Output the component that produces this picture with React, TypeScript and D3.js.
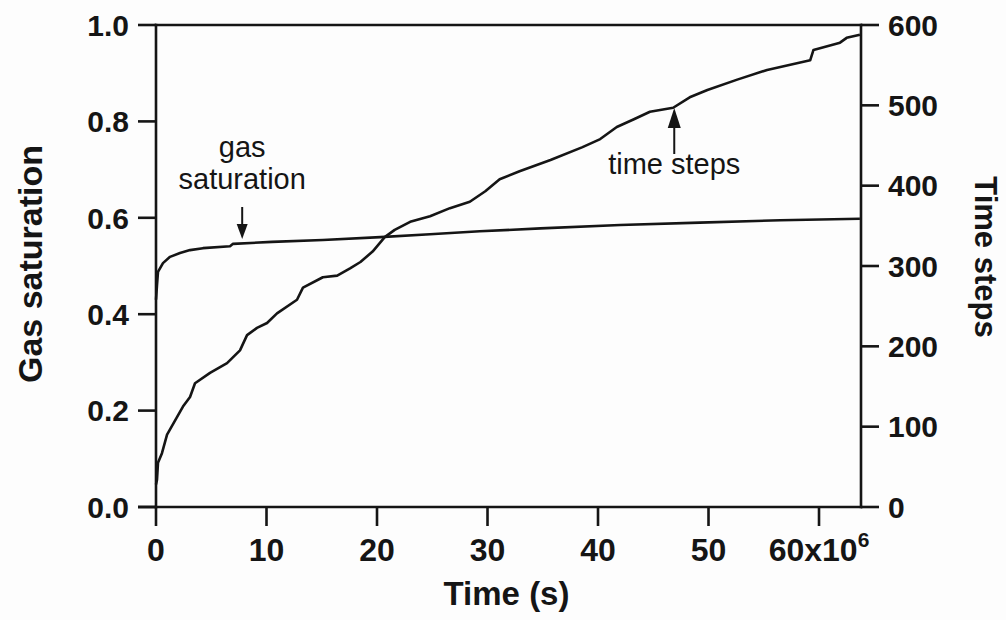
import React from 'react';
import * as d3 from 'd3';

// Time-step count series: time (10^6 s) and cumulative number of steps
const stepTimes = [0, 0.09, 0.18, 0.54, 1.0, 1.9, 2.44, 3.08, 3.53, 4.89, 6.43, 7.6, 8.24, 9.14, 10.05, 10.95, 12.76, 13.3, 15.1, 16.4, 17.56, 18.5, 19.6, 20.7, 21.6, 23.0, 24.8, 26.6, 28.4, 29.8, 31.1, 32.9, 35.7, 38.6, 40.2, 41.7, 43.3, 44.7, 46.8, 48.3, 49.9, 52.6, 55.3, 59.2, 59.5, 61.9, 62.5, 63.7];
const stepCounts = [28, 34, 55, 67, 90, 112, 125, 137, 154, 167, 179, 195, 214, 223, 229, 241, 258, 273, 286, 288, 297, 305, 318, 336, 345, 355, 362, 372, 380, 393, 408, 418, 432, 448, 458, 473, 483, 492, 497, 510, 519, 532, 544, 556, 569, 578, 584, 588];

// Gas saturation series: time (10^6 s) and saturation
const satTimes = [0, 0.09, 0.18, 0.63, 1.27, 2.17, 3.08, 4.25, 6.7, 6.97, 10.5, 15.1, 20.3, 24.8, 29.3, 34.8, 42.0, 49.2, 56.5, 63.7];
const gasSaturation = [0.43, 0.46, 0.488, 0.506, 0.519, 0.527, 0.533, 0.537, 0.541, 0.546, 0.55, 0.554, 0.56, 0.566, 0.572, 0.578, 0.585, 0.59, 0.595, 0.598];

const xTicks = [0, 10, 20, 30, 40, 50, 60];
const satTicks = [0, 0.2, 0.4, 0.6, 0.8, 1.0];
const stepTicks = [0, 100, 200, 300, 400, 500, 600];

const W = 1006;
const H = 620;
const plot = { left: 156, right: 861, top: 25, bottom: 507 };
const font = '"Liberation Sans", Arial, Helvetica, sans-serif';
const ink = '#151515';

export default function App() {
  const x = d3.scaleLinear().domain([0, 63.8]).range([plot.left, plot.right]);
  const ySat = d3.scaleLinear().domain([0, 1]).range([plot.bottom, plot.top]);
  const ySteps = d3.scaleLinear().domain([0, 600]).range([plot.bottom, plot.top]);

  const satPath = d3
    .line<number>()
    .x((_, i) => x(satTimes[i]))
    .y((d) => ySat(d))
    .curve(d3.curveLinear)(gasSaturation) as string;

  const stepPath = d3
    .line<number>()
    .x((_, i) => x(stepTimes[i]))
    .y((d) => ySteps(d))
    .curve(d3.curveLinear)(stepCounts) as string;

  const axisW = 2.6;
  const tickLen = 18;

  // annotation anchors
  const gasArrowX = x(7.8);
  const stepArrowX = x(46.9);

  return (
    <svg
      width={W}
      height={H}
      viewBox={`0 0 ${W} ${H}`}
      style={{ position: 'absolute', left: 0, top: 0, background: '#fdfdfd' }}
      fontFamily={font}
    >
      {/* frame */}
      <g stroke={ink} strokeWidth={axisW} fill="none" strokeLinecap="square">
        <line x1={plot.left} x2={plot.right} y1={plot.top} y2={plot.top} />
        <line x1={plot.left} x2={plot.right} y1={plot.bottom} y2={plot.bottom} />
        <line x1={plot.left} x2={plot.left} y1={plot.top} y2={plot.bottom} />
        <line x1={plot.right} x2={plot.right} y1={plot.top} y2={plot.bottom} />
      </g>

      {/* left axis: gas saturation */}
      <g>
        {satTicks.map((t) => (
          <g key={`s${t}`}>
            <line x1={plot.left - tickLen} x2={plot.left} y1={ySat(t)} y2={ySat(t)} stroke={ink} strokeWidth={axisW} />
            <text x={plot.left - tickLen - 9} y={ySat(t)} dy="0.36em" textAnchor="end" fontSize={30} fontWeight="bold" fill={ink}>
              {t.toFixed(1)}
            </text>
          </g>
        ))}
      </g>

      {/* right axis: time steps */}
      <g>
        {stepTicks.map((t) => (
          <g key={`n${t}`}>
            <line x1={plot.right} x2={plot.right + tickLen} y1={ySteps(t)} y2={ySteps(t)} stroke={ink} strokeWidth={axisW} />
            <text x={plot.right + tickLen + 9} y={ySteps(t)} dy="0.36em" textAnchor="start" fontSize={30} fontWeight="bold" fill={ink}>
              {t}
            </text>
          </g>
        ))}
      </g>

      {/* bottom axis: time */}
      <g>
        <line x1={plot.left - 18} x2={plot.left} y1={plot.bottom} y2={plot.bottom} stroke={ink} strokeWidth={axisW} />
        {xTicks.map((t) => (
          <g key={`x${t}`}>
            <line x1={x(t)} x2={x(t)} y1={plot.bottom} y2={plot.bottom + 19} stroke={ink} strokeWidth={axisW} />
            <text x={x(t)} y={561} textAnchor="middle" fontSize={32} fontWeight="bold" fill={ink}>
              {t === 60 ? (
                <>
                  60x10<tspan fontSize={21} dy={-14}>6</tspan>
                </>
              ) : (
                t
              )}
            </text>
          </g>
        ))}
      </g>

      {/* axis titles */}
      <text x={(plot.left + plot.right) / 2 - 2} y={605} textAnchor="middle" fontSize={33} fontWeight="bold" fill={ink}>
        Time (s)
      </text>
      <text transform={`translate(42,264) rotate(-90)`} textAnchor="middle" fontSize={34} fontWeight="bold" fill={ink}>
        Gas saturation
      </text>
      <text transform={`translate(975,257) rotate(90)`} textAnchor="middle" fontSize={31} fontWeight="bold" fill={ink}>
        Time steps
      </text>

      {/* data */}
      <path d={satPath} fill="none" stroke={ink} strokeWidth={2.6} strokeLinejoin="round" />
      <path d={stepPath} fill="none" stroke={ink} strokeWidth={2.6} strokeLinejoin="round" />

      {/* annotations */}
      <text x={gasArrowX} y={157} textAnchor="middle" fontSize={29} fill={ink}>gas</text>
      <text x={gasArrowX} y={189} textAnchor="middle" fontSize={29} fill={ink}>saturation</text>
      <line x1={gasArrowX} x2={gasArrowX} y1={207} y2={226} stroke={ink} strokeWidth={2} />
      <path d={`M${gasArrowX - 5.5},${224} L${gasArrowX + 5.5},${224} L${gasArrowX},${239} Z`} fill={ink} />

      <text x={stepArrowX} y={174} textAnchor="middle" fontSize={29} fill={ink}>time steps</text>
      <line x1={stepArrowX} x2={stepArrowX} y1={154} y2={125} stroke={ink} strokeWidth={2} />
      <path d={`M${stepArrowX - 6.5},${128} L${stepArrowX + 6.5},${128} L${stepArrowX},${108} Z`} fill={ink} />
    </svg>
  );
}
